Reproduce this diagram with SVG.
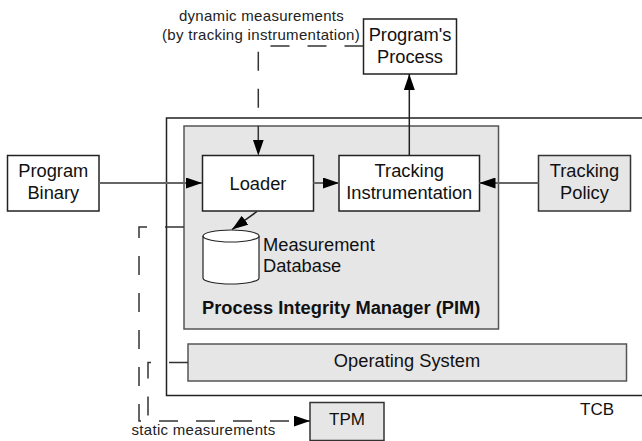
<svg xmlns="http://www.w3.org/2000/svg" width="642" height="441" viewBox="0 0 642 441">
<style>
.box{fill:#fff;stroke:#222;stroke-width:1.5}
.gbox{fill:#e6e6e6;stroke:#555;stroke-width:1.5}
.t{font-family:"Liberation Sans",Arial,sans-serif;font-size:18.3px;fill:#111}
.c{text-anchor:middle}
.s{font-family:"Liberation Sans",Arial,sans-serif;font-size:15px;letter-spacing:0.3px;fill:#222}
.ln{fill:none;stroke:#222;stroke-width:1.5}
.gl{fill:none;stroke:#666;stroke-width:2}
.dash{fill:none;stroke:#333;stroke-width:1.5;stroke-dasharray:19 18}
</style>
<defs>
<marker id="ah" markerUnits="userSpaceOnUse" markerWidth="16" markerHeight="11" refX="16" refY="5.5" orient="auto">
<path d="M0,0 L16,5.5 L0,11 z" fill="#000"/>
</marker>
</defs>
<g id="tcb">
<path d="M642,118 H166.5 V395.5 H642" class="ln"/>
<text x="580" y="415" class="t" style="font-size:17px">TCB</text>
</g>
<g id="pim">
<rect x="184" y="126" width="314.5" height="203" class="gbox"/>
<text x="202" y="314" class="t" style="font-weight:bold">Process Integrity Manager (PIM)</text>
</g>
<g id="os">
<rect x="188" y="344" width="438.5" height="37" class="gbox"/>
<text x="407" y="367" class="t c">Operating System</text>
</g>
<g id="program-binary">
<rect x="7.5" y="155.5" width="91.5" height="55.5" class="box"/>
<text x="53.3" y="176.5" class="t c">Program</text>
<text x="53.3" y="199" class="t c">Binary</text>
</g>
<g id="loader">
<rect x="202.5" y="155.5" width="111" height="55.5" class="box"/>
<text x="258" y="190" class="t c">Loader</text>
</g>
<g id="tracking-instrumentation">
<rect x="339" y="155.5" width="140.5" height="55.5" class="box"/>
<text x="409.3" y="176.5" class="t c">Tracking</text>
<text x="409.3" y="199" class="t c">Instrumentation</text>
</g>
<g id="tracking-policy">
<rect x="538.5" y="155.5" width="92" height="55.5" class="gbox" style="stroke:#333"/>
<text x="584.5" y="176.5" class="t c">Tracking</text>
<text x="584.5" y="199" class="t c">Policy</text>
</g>
<g id="programs-process">
<rect x="363.5" y="19" width="93" height="55" class="box"/>
<text x="410" y="40.5" class="t c">Program's</text>
<text x="410" y="63" class="t c">Process</text>
</g>
<g id="measurement-db">
<path d="M203,236 V278 A28,6 0 0 0 259,278 V236" fill="#fff" stroke="#222" stroke-width="1.2"/>
<ellipse cx="231" cy="236" rx="28" ry="6" fill="#fff" stroke="#222" stroke-width="1.2"/>
<text x="263" y="250.5" class="t">Measurement</text>
<text x="263" y="272" class="t">Database</text>
</g>
<g id="tpm">
<rect x="310" y="402.5" width="74" height="38" class="gbox" style="stroke:#333"/>
<text x="347" y="425" class="t c" style="font-size:17px">TPM</text>
</g>
<g id="labels">
<text x="261.5" y="20.5" class="s c">dynamic measurements</text>
<text x="261" y="39.5" class="s c">(by tracking instrumentation)</text>
<text x="131.5" y="435" class="s">static measurements</text>
</g>
<g id="connectors">
<path d="M99,183 H202" class="gl" marker-end="url(#ah)"/>
<path d="M313.5,183 H339" class="gl" marker-end="url(#ah)"/>
<path d="M538.5,183 H479.5" class="gl" marker-end="url(#ah)"/>
<path d="M409.3,155.5 V74" class="ln" marker-end="url(#ah)"/>
<path d="M257,211.5 L232,229.5" class="ln" stroke-width="1.2" marker-end="url(#ah)"/>
<path d="M363.5,46 H258.3 V155.5" class="dash" marker-end="url(#ah)"/>
<path d="M184,227 H139 V421 H310" class="dash" marker-end="url(#ah)"/>
<path d="M188,362.5 H148 V421" class="dash"/>
</g>
</svg>
